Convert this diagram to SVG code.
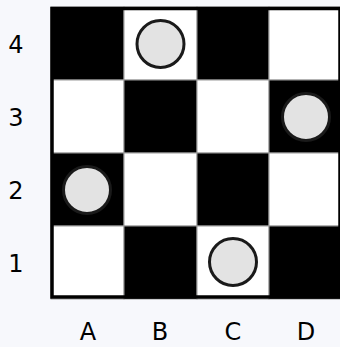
<svg xmlns="http://www.w3.org/2000/svg" width="340" height="347" viewBox="0 0 340 347">
<style>
.b{fill:#000;stroke:#999;stroke-width:1}
.w{fill:#fff;stroke:#999;stroke-width:1}
.p{fill:#e3e3e3;stroke:#1a1a1a;stroke-width:3}
.l{font-family:"DejaVu Sans",sans-serif;font-size:24px;fill:#000;text-anchor:middle}
</style>
<rect width="340" height="347" fill="#f7f8fc"/>
<g id="board">
<rect class="b" x="51" y="7" width="73" height="73"/>
<rect class="w" x="124" y="7" width="73" height="73"/>
<rect class="b" x="197" y="7" width="72" height="73"/>
<rect class="w" x="269" y="7" width="73" height="73"/>
<rect class="w" x="51" y="80" width="73" height="73"/>
<rect class="b" x="124" y="80" width="73" height="73"/>
<rect class="w" x="197" y="80" width="72" height="73"/>
<rect class="b" x="269" y="80" width="73" height="73"/>
<rect class="b" x="51" y="153" width="73" height="73"/>
<rect class="w" x="124" y="153" width="73" height="73"/>
<rect class="b" x="197" y="153" width="72" height="73"/>
<rect class="w" x="269" y="153" width="73" height="73"/>
<rect class="w" x="51" y="226" width="73" height="73"/>
<rect class="b" x="124" y="226" width="73" height="73"/>
<rect class="w" x="197" y="226" width="72" height="73"/>
<rect class="b" x="269" y="226" width="73" height="73"/>
<rect x="52" y="8.5" width="288" height="288.5" fill="none" stroke="#000" stroke-width="3.5"/>
</g>
<g id="piece-B4"><circle class="p" cx="160.5" cy="44" r="23.5"/></g>
<g id="piece-D3"><circle class="p" cx="306" cy="117" r="23.5"/></g>
<g id="piece-A2"><circle class="p" cx="87" cy="190" r="23.5"/></g>
<g id="piece-C1"><circle class="p" cx="233" cy="262" r="23.5"/></g>
<g id="labels">
<text class="l" x="16" y="53">4</text>
<text class="l" x="16" y="126">3</text>
<text class="l" x="16" y="199">2</text>
<text class="l" x="16" y="272">1</text>
<text class="l" x="88" y="340">A</text>
<text class="l" x="160" y="340">B</text>
<text class="l" x="233" y="340">C</text>
<text class="l" x="306" y="340">D</text>
</g>
</svg>
